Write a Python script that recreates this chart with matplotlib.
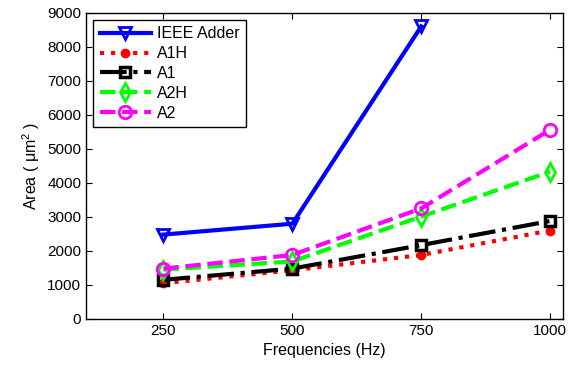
import numpy as np
import matplotlib
matplotlib.use("Agg")
import matplotlib.pyplot as plt

plt.rcParams['font.family'] = ['Liberation Sans', 'DejaVu Sans']
plt.rcParams['mathtext.fontset'] = 'custom'
plt.rcParams['mathtext.rm'] = 'Liberation Sans'
plt.rcParams['mathtext.it'] = 'Liberation Sans'

freqs = [250, 500, 750, 1000]
ieee_freqs = [250, 500, 750]
ieee_adder = [2480, 2800, 8600]
a1h = [1050, 1430, 1880, 2600]
a1 = [1150, 1480, 2170, 2880]
a2h = [1450, 1690, 3010, 4330]
a2 = [1480, 1880, 3250, 5560]

fig = plt.figure(figsize=(5.78, 3.67), dpi=100)
ax = fig.add_axes([0.149, 0.131, 0.825, 0.834])

ax.plot(ieee_freqs, ieee_adder, color="blue", ls="-", lw=3, marker="v",
        ms=9, mfc="none", mew=2, label="IEEE Adder")
ax.plot(freqs, a1h, color="red", ls=":", lw=3, marker="o",
        ms=6, mfc="red", label="A1H")
ax.plot(freqs, a1, color="black", ls="-.", lw=3, marker="s",
        ms=7, mfc="none", mew=2.5, label="A1")
ax.plot(freqs, a2h, color="#00ff00", ls="--", lw=3, marker="d",
        ms=9, mfc="none", mew=2, label="A2H")
ax.plot(freqs, a2, color="magenta", ls="--", lw=3, marker="o",
        ms=9, mfc="none", mew=2, label="A2")

ax.set_xlim(100, 1025)
ax.set_ylim(0, 9000)
ax.set_xticks(freqs)
ax.set_yticks(np.arange(0, 9001, 1000))
ax.tick_params(direction="in", top=True, right=True, labelsize=11, length=4)
for s in ax.spines.values():
    s.set_linewidth(1.0)

ax.set_xlabel("Frequencies (Hz)", fontsize=11.5)
ax.set_ylabel(r"Area ( $\mathregular{\mu m^2}$ )", fontsize=11.5)

leg = ax.legend(loc="upper left", fontsize=11.5, fancybox=False, framealpha=1,
                edgecolor="black", handlelength=3.2, borderaxespad=0.45,
                labelspacing=0.3, handletextpad=0.4, borderpad=0.4)
leg.get_frame().set_linewidth(1.0)

fig.savefig("out.png", dpi=100)
